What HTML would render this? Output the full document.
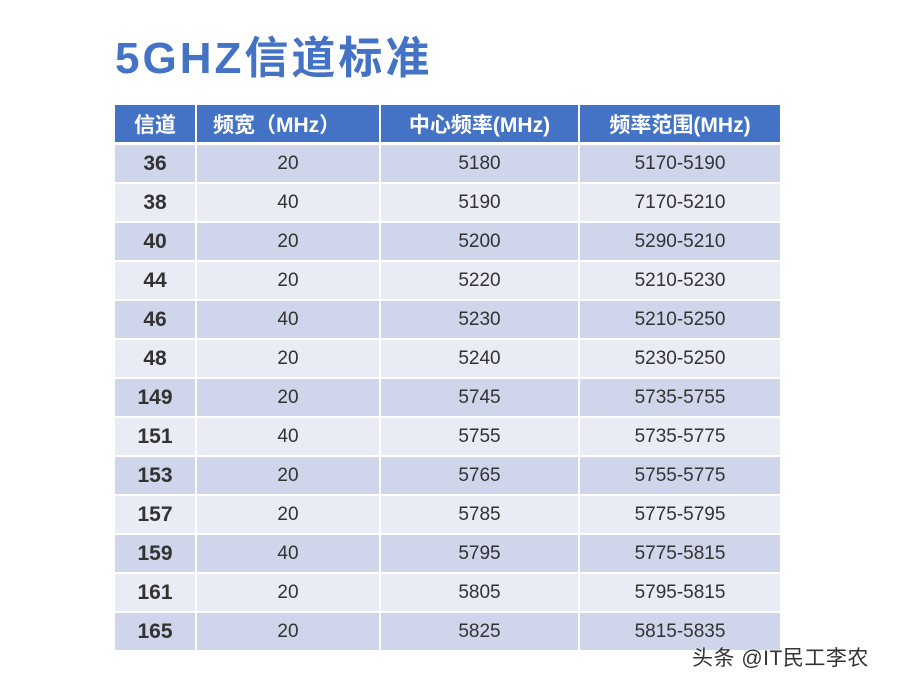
<!DOCTYPE html>
<html><head><meta charset="utf-8"><style>
body{margin:0;width:900px;height:687px;background:#fff;position:relative;overflow:hidden;font-family:"Liberation Sans","Noto Sans CJK SC",sans-serif}
.t{position:absolute;left:115px;top:30px;font-size:44px;font-weight:bold;color:#4472C4;letter-spacing:3px;line-height:58px}
table{position:absolute;left:115px;top:105px;border-collapse:collapse;width:665px;table-layout:fixed}
td,th{border:2px solid #fff;text-align:center;padding:0;height:37px;font-size:19px;color:#333;white-space:nowrap}
th{background:#4472C4;color:#fff;font-weight:bold;font-size:21px;border-bottom:3px solid #fff;border-top:none}
th:first-child,td:first-child{border-left:none}
th:last-child,td:last-child{border-right:none}
tr:nth-child(even) td{background:#CFD5EA}
tr:nth-child(odd) td{background:#E9EBF5}
td:first-child{font-weight:bold;font-size:21px}
.w{position:absolute;left:692px;top:642px;font-size:21px;letter-spacing:0.5px;color:#333;text-shadow:0 0 2px #fff}
</style></head><body>
<div class="t">5GHZ信道标准</div>
<table>
<colgroup><col style="width:81px"><col style="width:184px"><col style="width:199px"><col style="width:201px"></colgroup>
<tr><th>信道</th><th style="text-align:left;padding-left:16px">频宽（MHz）</th><th>中心频率(MHz)</th><th>频率范围(MHz)</th></tr>
<tr><td>36</td><td>20</td><td>5180</td><td>5170-5190</td></tr>
<tr><td>38</td><td>40</td><td>5190</td><td>7170-5210</td></tr>
<tr><td>40</td><td>20</td><td>5200</td><td>5290-5210</td></tr>
<tr><td>44</td><td>20</td><td>5220</td><td>5210-5230</td></tr>
<tr><td>46</td><td>40</td><td>5230</td><td>5210-5250</td></tr>
<tr><td>48</td><td>20</td><td>5240</td><td>5230-5250</td></tr>
<tr><td>149</td><td>20</td><td>5745</td><td>5735-5755</td></tr>
<tr><td>151</td><td>40</td><td>5755</td><td>5735-5775</td></tr>
<tr><td>153</td><td>20</td><td>5765</td><td>5755-5775</td></tr>
<tr><td>157</td><td>20</td><td>5785</td><td>5775-5795</td></tr>
<tr><td>159</td><td>40</td><td>5795</td><td>5775-5815</td></tr>
<tr><td>161</td><td>20</td><td>5805</td><td>5795-5815</td></tr>
<tr><td>165</td><td>20</td><td>5825</td><td>5815-5835</td></tr>
</table>
<div class="w">头条 @IT民工李农</div>
</body></html>
